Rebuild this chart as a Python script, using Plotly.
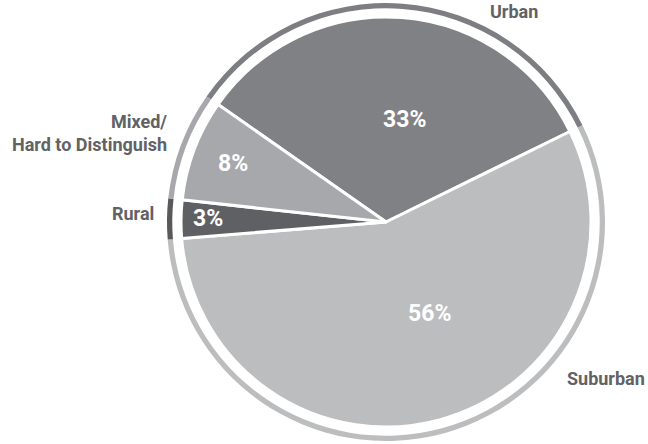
import plotly.graph_objects as go

categories = ["Urban", "Suburban", "Rural", "Mixed/<br>Hard to Distinguish"]
values = [33, 56, 3, 8]
colors = ["#808185", "#bcbdbf", "#5f6063", "#a7a8ab"]
ring_colors = ["#7d7e82", "#bcbdbf", "#58595b", "#a7a8ab"]
pct_labels = [f"{v}%" for v in values]

W, H = 648, 444
cx, cy = 386, 222
r_outer, r_inner = 219, 205

def dom(r):
    return dict(x=[max(0, (cx - r) / W), min(1, (cx + r) / W)],
                y=[max(0, (H - cy - r) / H), min(1, (H - cy + r) / H)])

fig = go.Figure()
fig.add_trace(go.Pie(
    labels=categories, values=values, sort=False, direction="clockwise", rotation=-55,
    hole=0.976, marker=dict(colors=ring_colors, line=dict(width=0)),
    textinfo="none", hoverinfo="skip", domain=dom(r_outer), showlegend=False,
))
fig.add_trace(go.Pie(
    labels=categories, values=values, sort=False, direction="clockwise", rotation=-55,
    marker=dict(colors=colors, line=dict(color="white", width=3)),
    textinfo="none", domain=dom(r_inner), showlegend=False,
))

# percentage labels inside the slices (placed as in the reference)
pct_pos = [(404, 119), (429, 313), (208, 218), (233, 163)]
pct_font = dict(family="Roboto", size=23, color="white", weight="bold")
for txt, (x, y) in zip(pct_labels, pct_pos):
    fig.add_annotation(text=f"<b>{txt}</b>", x=x / W, y=1 - y / H, xref="paper", yref="paper",
                       xanchor="center", yanchor="middle", showarrow=False, font=pct_font)

label_font = dict(family="Roboto", size=18, color="#616265", weight="bold")
ann = [
    dict(text="<b>Urban</b>", x=514, y=12, xanchor="center"),
    dict(text="<b>Suburban</b>", x=647, y=378, xanchor="right"),
    dict(text="<b>Mixed/<br>Hard to Distinguish</b>", x=169, y=133, xanchor="right", align="right"),
    dict(text="<b>Rural</b>", x=156, y=213, xanchor="right"),
]
for a in ann:
    fig.add_annotation(text=a["text"], x=a["x"] / W, y=1 - a["y"] / H,
                       xref="paper", yref="paper",
                       xanchor=a["xanchor"], yanchor="middle", showarrow=False,
                       align=a.get("align", "center"), font=label_font)

fig.update_layout(width=W, height=H, margin=dict(l=0, r=0, t=0, b=0),
                  paper_bgcolor="white", plot_bgcolor="white")
fig.write_html("out.html", config={"displayModeBar": False},
               post_script="document.body.style.margin='0';")
